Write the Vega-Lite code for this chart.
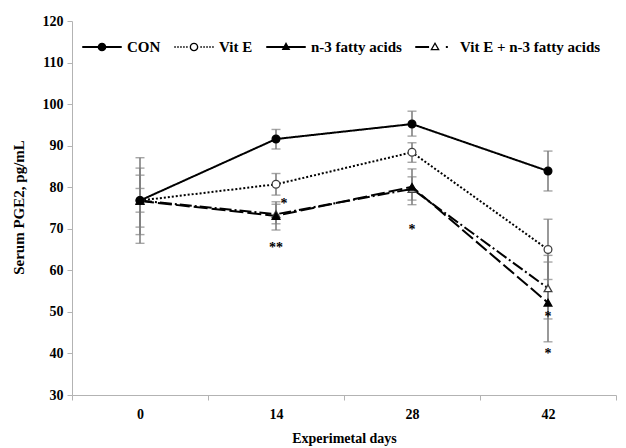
{
  "$schema": "https://vega.github.io/schema/vega-lite/v6.json",
  "width": 544,
  "height": 374,
  "autosize": {"type": "none"},
  "padding": {"left": 72, "top": 21, "right": 10, "bottom": 53},
  "background": "white",
  "config": {
    "view": {"stroke": null},
    "font": "Liberation Serif",
    "axis": {"labelFont": "Liberation Serif", "titleFont": "Liberation Serif", "labelFontWeight": "bold", "titleFontWeight": "bold", "labelColor": "black", "titleColor": "black", "domainColor": "#b3b3b3", "tickColor": "#b3b3b3", "grid": false},
    "legend": {"orient": "none", "legendX": 10, "legendY": 6, "direction": "horizontal", "columns": 4, "labelFont": "Liberation Serif", "labelFontWeight": "bold", "labelFontSize": 15, "labelColor": "black", "symbolSize": 1560, "symbolOpacity": 1, "symbolFillColor": "black", "symbolStrokeWidth": 0, "labelOffset": 5, "columnPadding": 13}
  },
  "datasets": {
    "groups": [
      {"series": "Vit E + n-3 fatty acids", "day": "0", "value": 76.8, "lo": 74.0, "hi": 79.7},
      {"series": "Vit E + n-3 fatty acids", "day": "14", "value": 73.5, "lo": 71.2, "hi": 75.9},
      {"series": "Vit E + n-3 fatty acids", "day": "28", "value": 79.6, "lo": 76.9, "hi": 82.5},
      {"series": "Vit E + n-3 fatty acids", "day": "42", "value": 55.7, "lo": 48.3, "hi": 63.6},
      {"series": "n-3 fatty acids", "day": "0", "value": 76.7, "lo": 70.4, "hi": 82.9},
      {"series": "n-3 fatty acids", "day": "14", "value": 73.1, "lo": 69.7, "hi": 76.5},
      {"series": "n-3 fatty acids", "day": "28", "value": 80.1, "lo": 75.8, "hi": 84.4},
      {"series": "n-3 fatty acids", "day": "42", "value": 52.2, "lo": 42.8, "hi": 62.0},
      {"series": "Vit E", "day": "0", "value": 76.8, "lo": 68.6, "hi": 84.6},
      {"series": "Vit E", "day": "14", "value": 80.7, "lo": 78.1, "hi": 83.3},
      {"series": "Vit E", "day": "28", "value": 88.4, "lo": 86.0, "hi": 90.7},
      {"series": "Vit E", "day": "42", "value": 65.0, "lo": 57.8, "hi": 72.3},
      {"series": "CON", "day": "0", "value": 76.8, "lo": 66.5, "hi": 87.1},
      {"series": "CON", "day": "14", "value": 91.6, "lo": 89.2, "hi": 93.9},
      {"series": "CON", "day": "28", "value": 95.2, "lo": 92.3, "hi": 98.3},
      {"series": "CON", "day": "42", "value": 83.9, "lo": 79.1, "hi": 88.7}
    ],
    "stars": [
      {"day": "14", "value": 65.4, "label": "**"},
      {"day": "28", "value": 69.8, "label": "*"},
      {"day": "42", "value": 48.8, "label": "*"},
      {"day": "42", "value": 39.9, "label": "*"}
    ],
    "stars2": [
      {"day": "14", "value": 75.9, "label": "*"}
    ]
  },
  "encoding": {
    "x": {"field": "day", "type": "ordinal", "sort": ["0", "14", "28", "42"],
      "scale": {"paddingInner": 0, "paddingOuter": 0},
      "axis": {"title": "Experimetal days", "labelAngle": 0, "tickBand": "extent", "labelFontSize": 14, "titleFontSize": 14, "tickSize": 5, "labelPadding": 7, "titlePadding": 10}}
  },
  "resolve": {"scale": {"shape": "independent"}, "legend": {"shape": "independent"}},
  "layer": [
    {
      "data": {"name": "groups"},
      "mark": {"type": "rule", "color": "#808080", "strokeWidth": 1.6},
      "encoding": {
        "y": {"field": "lo", "type": "quantitative"},
        "y2": {"field": "hi"}
      }
    },
    {
      "data": {"name": "groups"},
      "mark": {"type": "tick", "orient": "horizontal", "size": 9, "thickness": 1.4, "color": "#808080"},
      "encoding": {"y": {"field": "lo", "type": "quantitative"}}
    },
    {
      "data": {"name": "groups"},
      "mark": {"type": "tick", "orient": "horizontal", "size": 9, "thickness": 1.4, "color": "#808080"},
      "encoding": {"y": {"field": "hi", "type": "quantitative"}}
    },
    {
      "data": {"name": "groups"},
      "mark": {"type": "line", "color": "black", "strokeWidth": 2},
      "encoding": {
        "y": {"field": "value", "type": "quantitative", "scale": {"domain": [30, 120], "nice": false, "zero": false},
          "axis": {"title": "Serum PGE2, pg/mL", "values": [30, 40, 50, 60, 70, 80, 90, 100, 110, 120], "labelFontSize": 14, "titleFontSize": 15, "tickSize": 5, "labelPadding": 4, "titleX": -46, "titleY": 186}},
        "strokeDash": {"field": "series", "type": "nominal", "legend": null,
          "scale": {"domain": ["CON", "Vit E", "n-3 fatty acids", "Vit E + n-3 fatty acids"], "range": [[1, 0], [2, 2], [14, 4], [12, 3, 2, 3]]}}
      }
    },
    {
      "data": {"name": "groups"},
      "mark": {"type": "point", "filled": false, "opacity": 1, "size": 60, "strokeWidth": 1.3},
      "encoding": {
        "y": {"field": "value", "type": "quantitative"},
        "shape": {"field": "series", "type": "nominal", "legend": null,
          "scale": {"domain": ["CON", "Vit E", "n-3 fatty acids", "Vit E + n-3 fatty acids"], "range": ["circle", "circle", "triangle-up", "triangle-up"]}},
        "fill": {"field": "series", "type": "nominal", "legend": null,
          "scale": {"domain": ["CON", "Vit E", "n-3 fatty acids", "Vit E + n-3 fatty acids"], "range": ["black", "white", "black", "white"]}},
        "stroke": {"field": "series", "type": "nominal", "legend": null,
          "scale": {"domain": ["CON", "Vit E", "n-3 fatty acids", "Vit E + n-3 fatty acids"], "range": ["black", "#404040", "black", "#404040"]}}
      }
    },
    {
      "data": {"name": "groups"},
      "mark": {"type": "point", "filled": true, "color": "black", "opacity": 0, "size": 1560},
      "encoding": {
        "y": {"field": "value", "type": "quantitative"},
        "shape": {"field": "series", "type": "nominal", "title": null,
          "scale": {"domain": ["CON", "Vit E", "n-3 fatty acids", "Vit E + n-3 fatty acids"],
            "range": [
              "M-1,-0.05H1V0.05H-1Z M0.22,0A0.22,0.22 0 1 1 -0.22,0A0.22,0.22 0 1 1 0.22,0Z",
              "M-1,-0.04h0.08v0.08h-0.08Z M-0.85,-0.04h0.08v0.08h-0.08Z M-0.7,-0.04h0.08v0.08h-0.08Z M-0.55,-0.04h0.08v0.08h-0.08Z M-0.4,-0.04h0.08v0.08h-0.08Z M0.32,-0.04h0.08v0.08h-0.08Z M0.47,-0.04h0.08v0.08h-0.08Z M0.62,-0.04h0.08v0.08h-0.08Z M0.77,-0.04h0.08v0.08h-0.08Z M0.92,-0.04h0.08v0.08h-0.08Z M0.22,0A0.22,0.22 0 1 1 -0.22,0A0.22,0.22 0 1 1 0.22,0Z M0.15,0A0.15,0.15 0 1 0 -0.15,0A0.15,0.15 0 1 0 0.15,0Z",
              "M-1,-0.05H1V0.05H-1Z M0,-0.25L0.22,0.15L-0.22,0.15Z",
              "M-1,-0.05H-0.3V0.05H-1Z M0,-0.25L0.24,0.17L-0.24,0.17Z M0,-0.13L-0.13,0.1L0.13,0.1Z M0.55,-0.05h0.1v0.1h-0.1Z"
            ]},
          "legend": {"title": null, "symbolOpacity": 1}}
      }
    },
    {
      "data": {"name": "stars"},
      "mark": {"type": "text", "fontSize": 14, "fontWeight": "bold", "fill": "black", "baseline": "middle"},
      "encoding": {
        "y": {"field": "value", "type": "quantitative"},
        "text": {"field": "label"}
      }
    },
    {
      "data": {"name": "stars2"},
      "mark": {"type": "text", "fontSize": 14, "fontWeight": "bold", "fill": "black", "baseline": "middle", "dx": 8},
      "encoding": {
        "y": {"field": "value", "type": "quantitative"},
        "text": {"field": "label"}
      }
    }
  ]
}
